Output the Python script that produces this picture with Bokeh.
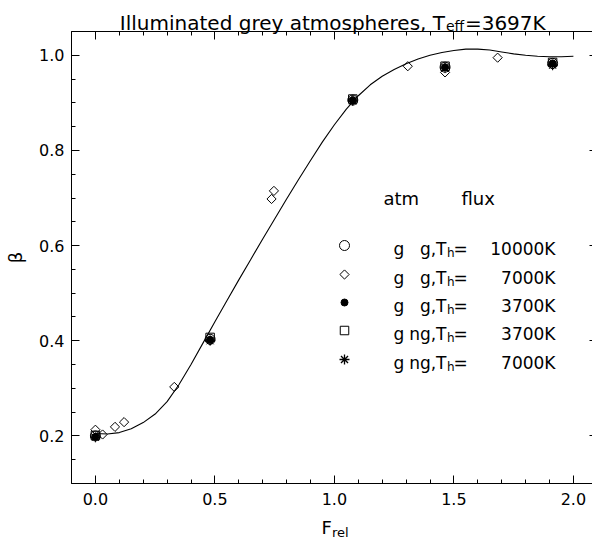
import math
from bokeh.plotting import figure
from bokeh.models import (LinearAxis, SingleIntervalTicker, PrintfTickFormatter,
                          CustomJSTickFormatter, Label, Range1d)
from bokeh.embed import file_html
from bokeh.resources import INLINE

# ---------------- data ----------------
curve_x = [0.00, 0.05, 0.10, 0.15, 0.20, 0.25, 0.30, 0.35, 0.40, 0.45,
           0.50, 0.55, 0.60, 0.65, 0.70, 0.75, 0.80, 0.85, 0.90, 0.95,
           1.00, 1.05, 1.10, 1.15, 1.20, 1.25, 1.30, 1.35, 1.40, 1.45,
           1.50, 1.55, 1.60, 1.65, 1.70, 1.75, 1.80, 1.85, 1.90, 1.95, 2.00]
curve_y = [0.205, 0.204, 0.207, 0.215, 0.228, 0.246, 0.272, 0.308, 0.350, 0.395,
           0.440, 0.484, 0.528, 0.571, 0.614, 0.656, 0.698, 0.739, 0.779, 0.818,
           0.854, 0.887, 0.915, 0.938, 0.956, 0.970, 0.982, 0.992, 1.000, 1.006,
           1.010, 1.013, 1.013, 1.011, 1.007, 1.003, 1.000, 0.998, 0.997, 0.997, 0.998]

cluster_x = [0.0, 0.48, 1.077, 1.463, 1.913]
beta_gg_10000 = [0.200, 0.403, 0.906, 0.975, 0.983]
beta_gg_3700 = [0.198, 0.402, 0.905, 0.975, 0.983]
beta_gng_3700 = [0.201, 0.407, 0.908, 0.977, 0.985]
beta_gng_7000 = [0.197, 0.400, 0.904, 0.973, 0.979]

diamond_x = [0.0, 0.03, 0.082, 0.12, 0.33, 0.48, 0.737, 0.747, 1.077, 1.307, 1.463, 1.683, 1.913]
beta_gg_7000 = [0.213, 0.203, 0.219, 0.229, 0.303, 0.401, 0.698, 0.715, 0.906, 0.977, 0.964, 0.995, 0.980]

legend_atm = ["g", "g", "g", "g", "g"]
legend_flux = ["g", "g", "g", "ng", "ng"]
legend_temp = ["10000K", "7000K", "3700K", "3700K", "7000K"]

x_axis_range = (-0.1, 2.1)
y_axis_range = (0.1, 1.05)
x_ticks_interval = 0.5
y_ticks_interval = 0.2

# ---------------- geometry (frame = whole canvas, axes at fixed locations) ----------------
W, H = 592, 541
AX_LEFT_PX, AX_TOP_PX, AX_BOTTOM_PX = 71, 31, 483
SX = 239.0                                               # px per x unit
SY = (AX_BOTTOM_PX - AX_TOP_PX) / (y_axis_range[1] - y_axis_range[0])
XS = x_axis_range[0] - AX_LEFT_PX / SX
XE = XS + W / SX
YE = y_axis_range[1] + AX_TOP_PX / SY
YS = YE - H / SY

def px2x(px):
    return XS + px / SX

def py2y(py):
    return YE - py / SY

p = figure(width=W, height=H, output_backend="svg", toolbar_location=None,
           x_range=Range1d(XS, XE), y_range=Range1d(YS, YE),
           x_axis_location=None, y_axis_location=None,
           min_border=0, min_border_left=0, min_border_right=0,
           min_border_top=0, min_border_bottom=0)
p.outline_line_color = None
p.xgrid.visible = False
p.ygrid.visible = False
p.background_fill_color = "white"
p.border_fill_color = "white"

FONT = "DejaVu Sans"

def make_axis(kind, labels, loc):
    if kind == "x":
        tk = SingleIntervalTicker(interval=x_ticks_interval, num_minor_ticks=5)
        bounds = x_axis_range
    else:
        tk = SingleIntervalTicker(interval=y_ticks_interval, num_minor_ticks=4)
        bounds = y_axis_range
    ax = LinearAxis(ticker=tk, fixed_location=loc, bounds=bounds)
    ax.major_tick_in = 8
    ax.major_tick_out = 0
    ax.minor_tick_in = 4
    ax.minor_tick_out = 0
    ax.major_tick_line_color = "black"
    ax.minor_tick_line_color = "black"
    ax.axis_line_color = "black"
    if labels:
        ax.formatter = PrintfTickFormatter(format="%.1f")
        ax.major_label_text_font = FONT
        ax.major_label_text_font_size = "16px"
        ax.major_label_text_color = "black"
    else:
        ax.formatter = CustomJSTickFormatter(code="return ''")
        ax.major_label_standoff = 0
    return ax

bx = make_axis("x", True, y_axis_range[0])
bx.major_label_standoff = 9
p.add_layout(bx, "below")
p.add_layout(make_axis("x", False, y_axis_range[1]), "above")
ly = make_axis("y", True, x_axis_range[0])
ly.major_label_standoff = 7
ly.axis_label = "β"
ly.axis_label_text_font = FONT
ly.axis_label_text_font_style = "normal"
ly.axis_label_text_font_size = "18px"
ly.axis_label_text_color = "black"
ly.axis_label_standoff = 10
p.add_layout(ly, "left")
p.add_layout(make_axis("y", False, x_axis_range[1]), "right")

# ---------------- curve and points ----------------
p.line(curve_x, curve_y, line_color="black", line_width=1.1)

p.scatter(cluster_x, beta_gg_10000, marker="circle", size=10,
          line_color="black", fill_color=None, line_width=1)
p.scatter(diamond_x, beta_gg_7000, marker="square", angle=45, angle_units="deg",
          size=6.5, line_color="black", fill_color=None, line_width=1)
p.scatter(cluster_x, beta_gg_3700, marker="circle", size=7,
          line_color="black", fill_color="black")
p.scatter(cluster_x, beta_gng_3700, marker="square", size=8.5,
          line_color="black", fill_color=None, line_width=1)
p.scatter(cluster_x, beta_gng_7000, marker="asterisk", size=10,
          line_color="black", line_width=1)

# ---------------- text helpers ----------------
def lab(px, py, text, size, align="left", baseline="alphabetic", angle=0):
    p.add_layout(Label(x=px2x(px), y=py2y(py), text=text, text_font=FONT,
                       text_font_size=f"{size}px", text_color="black",
                       text_align=align, text_baseline=baseline, angle=angle))

# title: "Illuminated grey atmospheres, T_eff=3697K"
t_main, t_sub, t_end = "Illuminated grey atmospheres, T", "eff", "=3697K"
w_main, w_sub, w_end = 16.305 * 20, 1.319 * 14, 4.038 * 20
start = 332 - (w_main + w_sub + w_end) / 2
lab(start, 22, t_main, 20)
lab(start + w_main, 25.5, t_sub, 14)
lab(start + w_main + w_sub + 0.5, 22, t_end, 20)

# x title: F_rel
lab(321, 527, "F", 18)
lab(331.5, 532, "rel", 13)

# legend
lab(383, 198, "atm", 18)
lab(461, 198, "flux", 18)
row_py = [245, 274, 302, 330, 359]
key_markers = [("circle", 10, None, 1), ("diamond", 6.5, None, 1),
               ("dot", 7, "black", 1), ("square", 8.5, None, 1), ("asterisk", 10, None, 1.3)]
for i, (m, s, fc, lw) in enumerate(key_markers):
    kx, ky = px2x(344), py2y(row_py[i])
    if m == "diamond":
        p.scatter([kx], [ky], marker="square", angle=45, angle_units="deg", size=s,
                  line_color="black", fill_color=None, line_width=lw)
    elif m == "dot":
        p.scatter([kx], [ky], marker="circle", size=s, line_color="black", fill_color="black")
    else:
        p.scatter([kx], [ky], marker=m, size=s, line_color="black", fill_color=fc, line_width=lw)
    base = row_py[i] + 3
    lab(393, base, legend_atm[i], 17)
    lab(446, base, legend_flux[i] + ",T", 17, align="right")
    lab(446.5, base + 4, "h", 12)
    lab(453, base, "=", 17)
    lab(555, base, legend_temp[i], 17, align="right")

open("out.html", "w").write(file_html(p, INLINE))
